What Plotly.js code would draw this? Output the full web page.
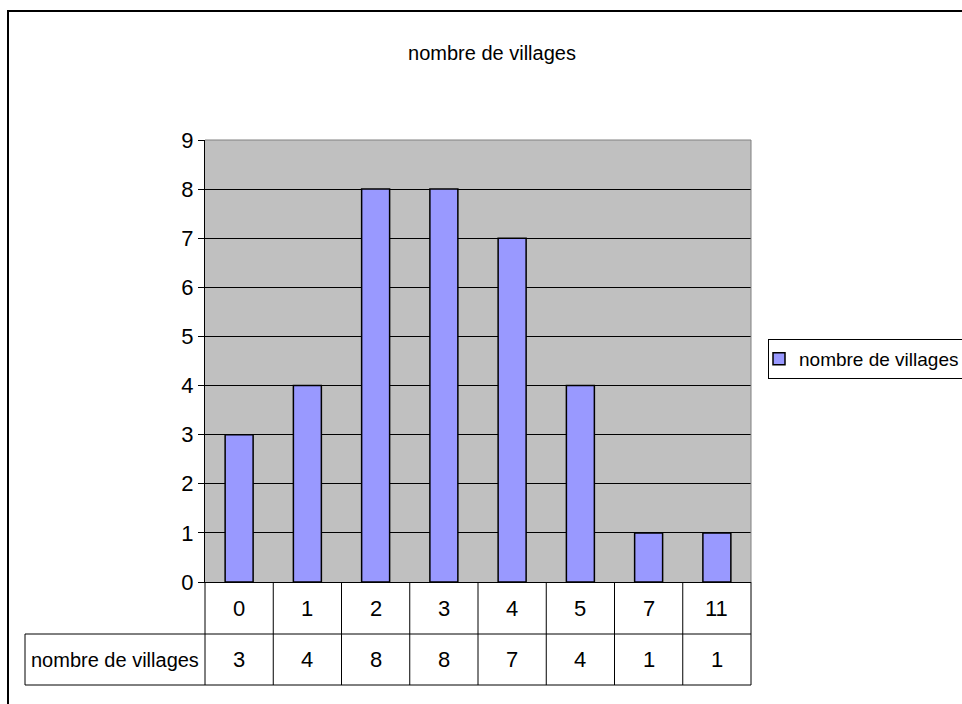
<!DOCTYPE html>
<html>
<head>
<meta charset="utf-8">
<script src="https://cdn.plot.ly/plotly-3.0.1.min.js"></script>
<style>html,body{margin:0;padding:0;background:#fff;}#chart{width:962px;height:704px;}</style>
</head>
<body>
<div id="chart"></div>
<script>
const categories = ["0", "1", "2", "3", "4", "5", "7", "11"];
const values = [3, 4, 8, 8, 7, 4, 1, 1];
const seriesName = "nombre de villages";
const titleText = "nombre de villages";
const yTicks = [0, 1, 2, 3, 4, 5, 6, 7, 8, 9];

const FONT = "Liberation Sans, Arial, sans-serif";
const TXT = 20, DIG = 22;
const n = categories.length;

// geometry in pixels -> paper coords
const L = 205, R = 751, T = 140, B = 582;
const W = R - L, H = B - T;
const px = x => (x - L) / W;
const py = y => (B - y) / H;

const row1Top = 582, row1Bot = 634, row2Bot = 685, labelLeft = 25;

const shapes = [];
shapes.push({type:'line', xref:'paper', yref:'paper', x0:0, x1:1, y0:1, y1:1, line:{color:'#808080', width:1}});
shapes.push({type:'line', xref:'paper', yref:'paper', x0:1, x1:1, y0:0, y1:1, line:{color:'#808080', width:1}});
for (let i = 0; i <= n; i++) {
  shapes.push({type:'line', xref:'paper', yref:'paper', x0:i/n, x1:i/n, y0:py(row1Top), y1:py(row2Bot), line:{color:'#000', width:1}});
}
shapes.push({type:'line', xref:'paper', yref:'paper', x0:px(labelLeft), x1:px(labelLeft), y0:py(row1Bot), y1:py(row2Bot), line:{color:'#000', width:1}});
shapes.push({type:'line', xref:'paper', yref:'paper', x0:px(labelLeft), x1:1, y0:py(row1Bot), y1:py(row1Bot), line:{color:'#000', width:1}});
shapes.push({type:'line', xref:'paper', yref:'paper', x0:px(labelLeft), x1:1, y0:py(row2Bot), y1:py(row2Bot), line:{color:'#000', width:1}});
shapes.push({type:'rect', xref:'paper', yref:'paper', x0:px(8), x1:px(975), y0:py(720), y1:py(11), line:{color:'#000', width:2}, fillcolor:'rgba(0,0,0,0)'});

const annotations = [];
const y1c = py((row1Top + row1Bot) / 2);
const y2c = py((row1Bot + row2Bot) / 2);
categories.forEach((c, i) => {
  const xc = (i + 0.5) / n;
  annotations.push({xref:'paper', yref:'paper', x:xc, y:y1c, text:c, showarrow:false, xanchor:'center', yanchor:'middle', font:{family:FONT, size:DIG, color:'#000'}});
  annotations.push({xref:'paper', yref:'paper', x:xc, y:y2c, text:String(values[i]), showarrow:false, xanchor:'center', yanchor:'middle', font:{family:FONT, size:DIG, color:'#000'}});
});
annotations.push({xref:'paper', yref:'paper', x:px((labelLeft + L) / 2), y:y2c, text:seriesName, showarrow:false, xanchor:'center', yanchor:'middle', font:{family:FONT, size:TXT, color:'#000'}});

const trace = {
  type:'bar', x:categories, y:values, name:seriesName,
  marker:{color:'#9999FF', line:{color:'#000', width:1.5}},
  showlegend:true
};

const layout = {
  width:962, height:704,
  margin:{l:L, r:962-R, t:T, b:704-B, pad:0},
  paper_bgcolor:'#fff', plot_bgcolor:'#C0C0C0',
  font:{family:FONT, size:TXT, color:'#000'},
  title:{text:titleText, x:492/962, xref:'container', xanchor:'center', y:1-53/704, yref:'container', yanchor:'middle', font:{family:FONT, size:TXT, color:'#000'}},
  bargap:0.59,
  xaxis:{type:'category', range:[-0.5, n-0.5], showticklabels:false, ticks:'', showgrid:false, zeroline:false, showline:true, linecolor:'#000', linewidth:1, fixedrange:true, automargin:false},
  yaxis:{range:[0, 9], tickvals:yTicks, ticktext:yTicks.map(String), ticks:'outside', ticklen:6, tickcolor:'#000', showgrid:true, gridcolor:'#000', gridwidth:1, zeroline:false, showline:true, linecolor:'#000', linewidth:1, tickfont:{family:FONT, size:DIG, color:'#000'}, fixedrange:true, automargin:false},
  showlegend:true,
  legend:{xref:'container', yref:'container', x:768/962, xanchor:'left', y:1-359/704, yanchor:'middle', bgcolor:'#fff', bordercolor:'#000', borderwidth:1, font:{family:FONT, size:19, color:'#000'}, itemwidth:30, indentation:-10},
  shapes:shapes,
  annotations:annotations
};

Plotly.newPlot('chart', [trace], layout, {displayModeBar:false, staticPlot:true});
</script>
</body>
</html>
